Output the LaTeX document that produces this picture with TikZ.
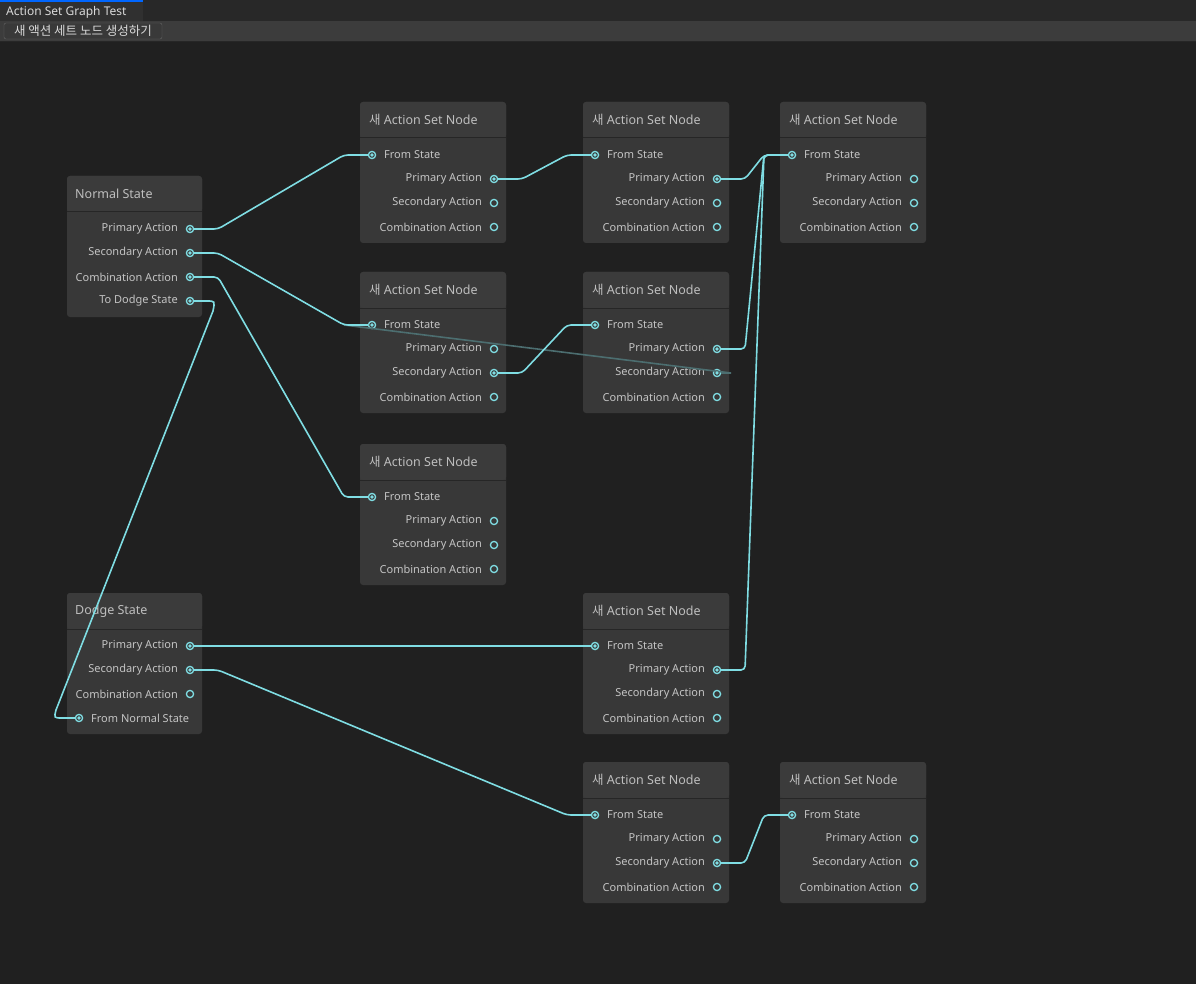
\documentclass[tikz,border=0pt]{standalone}
\usepackage{fontspec}
\setmainfont{Noto Sans}
\newfontfamily\cjk{Noto Sans CJK KR}
\usepackage{tikz}

\definecolor{canvas}{HTML}{202020}
\definecolor{tabbar}{HTML}{282828}
\definecolor{toolbar}{HTML}{3C3C3C}
\definecolor{nodebg}{HTML}{383838}
\definecolor{headbg}{HTML}{3B3B3B}
\definecolor{divider}{HTML}{262626}
\definecolor{wire}{HTML}{7FDDE3}
\definecolor{dimwire}{HTML}{4C6E70}
\definecolor{txt}{HTML}{C4C4C4}

\tikzset{
  rowtxt/.style={text=txt, font=\fontsize{11}{13}\selectfont, inner sep=0pt},
  headtxt/.style={text=txt!110, font=\fontsize{12.5}{14}\selectfont, inner sep=0pt, anchor=west},
  ring/.style={draw=wire, line width=1.3pt},
  wirepath/.style={draw=wire, line width=1.6pt, rounded corners=4pt},
}

% one action set node: name, x, y
\newcommand\actnode[3]{%
  \begin{scope}[shift={(#2,#3)}]
    \fill[nodebg, rounded corners=3pt] (0,0) rectangle (146,141);
    \fill[headbg, rounded corners=3pt] (0,0) rectangle (146,36);
    \draw[divider, line width=1pt] (0,36) -- (146,36);
    \node[headtxt] at (9,18) {{\cjk 새} Action Set Node};
    \coordinate (#1-f) at (12,53);
    \coordinate (#1-p) at (134,77);
    \coordinate (#1-s) at (134,101);
    \coordinate (#1-c) at (134,125);
    \node[rowtxt, anchor=west] at (24,53) {From State};
    \node[rowtxt, anchor=east] at (122,77) {Primary Action};
    \node[rowtxt, anchor=east] at (122,101) {Secondary Action};
    \node[rowtxt, anchor=east] at (122,125) {Combination Action};
    \foreach \q in {f,p,s,c} \draw[ring] (#1-\q) circle (3.6);
  \end{scope}}

\begin{document}
\begin{tikzpicture}[x=1pt, y=-1pt]
\useasboundingbox (0,0) rectangle (1196,984);
\fill[canvas] (0,0) rectangle (1196,984);

% window chrome
\fill[tabbar] (0,0) rectangle (1196,21);
\fill[toolbar!80!black] (0,2) rectangle (143,21);
\draw[blue!60!cyan, line width=1.5pt] (0,1) -- (143,1);
\node[rowtxt, text=white!85!black, font=\fontsize{12}{14}\selectfont, anchor=west] (tab) at (6,12) {Action Set Graph Test};
\fill[toolbar] (0,21) rectangle (1196,41);
\draw[divider] (0,41) -- (1196,41);
\node[draw=black!60, fill=gray!45!black, text=white!85!black, rounded corners=2pt,
      minimum width=158, minimum height=16, inner sep=0pt,
      font=\cjk\fontsize{12.5}{14}\selectfont] (newbtn) at (83,31) {새 액션 세트 노드 생성하기};

% normal state
\begin{scope}[shift={(67,176)}]
  \fill[nodebg, rounded corners=3pt] (0,0) rectangle (135,141);
  \fill[headbg, rounded corners=3pt] (0,0) rectangle (135,36);
  \draw[divider, line width=1pt] (0,36) -- (135,36);
  \node[headtxt] at (8,18) {Normal State};
  \coordinate (n-p) at (123,53);
  \coordinate (n-s) at (123,77);
  \coordinate (n-c) at (123,101);
  \coordinate (n-d) at (123,125);
  \node[rowtxt, anchor=east] at (111,53) {Primary Action};
  \node[rowtxt, anchor=east] at (111,77) {Secondary Action};
  \node[rowtxt, anchor=east] at (111,101) {Combination Action};
  \node[rowtxt, anchor=east] at (111,125) {To Dodge State};
  \foreach \q in {p,s,c,d} \draw[ring] (n-\q) circle (3.6);
\end{scope}

% dodge state
\begin{scope}[shift={(67,593)}]
  \fill[nodebg, rounded corners=3pt] (0,0) rectangle (135,141);
  \fill[headbg, rounded corners=3pt] (0,0) rectangle (135,36);
  \draw[divider, line width=1pt] (0,36) -- (135,36);
  \node[headtxt] at (8,18) {Dodge State};
  \coordinate (d-p) at (123,53);
  \coordinate (d-s) at (123,77);
  \coordinate (d-c) at (123,101);
  \coordinate (d-f) at (12,125);
  \node[rowtxt, anchor=east] at (111,53) {Primary Action};
  \node[rowtxt, anchor=east] at (111,77) {Secondary Action};
  \node[rowtxt, anchor=east] at (111,101) {Combination Action};
  \node[rowtxt, anchor=west] at (24,125) {From Normal State};
  \foreach \q in {p,s,c,f} \draw[ring] (d-\q) circle (3.6);
\end{scope}

\actnode{a1}{360}{102}
\actnode{a2}{583}{102}
\actnode{a3}{780}{102}
\actnode{a4}{360}{272}
\actnode{a5}{583}{272}
\actnode{a6}{360}{444}
\actnode{a7}{583}{593}
\actnode{a8}{583}{762}
\actnode{a9}{780}{762}

% dimmed edge
\draw[dimwire, line width=1.6pt, shorten <=4pt] (a5-s) -- ([xshift=14]a5-s) -- ([xshift=-28]a4-f) -- ([xshift=-4]a4-f);

% edges
\foreach \a/\b in {n-p/a1-f, n-s/a4-f, n-c/a6-f, a1-p/a2-f, a2-p/a3-f, a5-p/a3-f,
                   a7-p/a3-f, a4-s/a5-f, d-p/a7-f, d-s/a8-f, a8-s/a9-f}
  \draw[wirepath, shorten <=4pt, shorten >=4pt] (\a) -- ([xshift=28]\a) -- ([xshift=-28]\b) -- (\b);
\draw[draw=wire, line width=1.6pt, shorten <=4pt, shorten >=4pt]
  (n-d) -- ([xshift=17]n-d) .. controls ([xshift=25]n-d) .. ([xshift=23,yshift=-10]n-d)
  -- ([xshift=-23,yshift=8]d-f) .. controls ([xshift=-25]d-f) .. ([xshift=-17]d-f) -- (d-f);

% connected ports
\foreach \q in {n-p,n-s,n-c,n-d,d-p,d-s,d-f,a1-f,a1-p,a2-f,a2-p,a3-f,a4-f,a4-s,
                a5-f,a5-p,a5-s,a6-f,a7-f,a7-p,a8-f,a8-s,a9-f}
  \fill[wire] (\q) circle (1.9);
\end{tikzpicture}
\end{document}
